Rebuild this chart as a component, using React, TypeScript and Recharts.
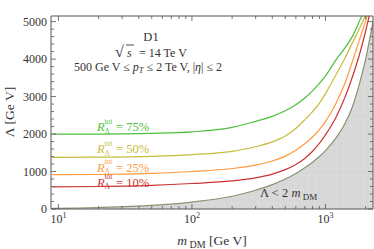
import React from "react";
import { ComposedChart, Line, Area, XAxis, YAxis } from "recharts";

// dark matter mass grid [GeV] and cutoff Λ [GeV]
const massGrid = [9, 20, 50, 100, 200, 300, 400, 500, 600, 700, 800, 900, 1000, 1200, 1400, 1600, 1800, 2000, 2270];
const ratio75 = [2000, 2000, 2020, 2060, 2180, 2340, 2470, 2620, 2780, 2960, 3150, 3350, 3550, 3980, 4300, 4620, 5020, 5400, 6100];
const ratio50 = [1380, 1385, 1405, 1450, 1540, 1660, 1790, 1950, 2150, 2380, 2600, 2820, 3080, 3580, 4030, 4450, 4820, 5180, 5800];
const ratio25 = [915, 920, 950, 1000, 1080, 1170, 1280, 1410, 1570, 1740, 1920, 2120, 2330, 2820, 3360, 3960, 4520, 5020, 5700];
const ratio10 = [590, 600, 630, 680, 750, 830, 930, 1050, 1190, 1350, 1540, 1750, 1980, 2450, 2980, 3550, 4130, 4750, 5600];
const excluded = [18, 40, 95, 185, 340, 500, 650, 800, 950, 1100, 1250, 1400, 1560, 1900, 2280, 2750, 3350, 4000, 5000];

const xMajor = [10, 100, 1000];
const xTicks = [10, 20, 30, 40, 50, 60, 70, 80, 90, 100, 200, 300, 400, 500, 600, 700, 800, 900, 1000, 2000];
const yMajor = [0, 1000, 2000, 3000, 4000, 5000];
const yTicks = [0, 200, 400, 600, 800, 1000, 1200, 1400, 1600, 1800, 2000, 2200, 2400, 2600, 2800, 3000,
  3200, 3400, 3600, 3800, 4000, 4200, 4400, 4600, 4800, 5000];

const curves = [
  { key: "r10", label: "10%", color: "#cc3434" },
  { key: "r25", label: "25%", color: "#ff9a3c" },
  { key: "r50", label: "50%", color: "#c6bd3a" },
  { key: "r75", label: "75%", color: "#4cbf3a" },
];

const rows = massGrid.map((m, i) => ({
  m,
  r75: ratio75[i],
  r50: ratio50[i],
  r25: ratio25[i],
  r10: ratio10[i],
  bound: excluded[i],
}));

const SERIF = "'Liberation Serif', 'Times New Roman', serif";
const INK = "#333";
const FRAME = "#555";

const XTick = (props: any) => {
  const { x, y, payload, side } = props;
  const v = payload.value;
  const major = xMajor.includes(v);
  const len = major ? 5 : 3;
  const dir = side === "bottom" ? -1 : 1;
  return (
    <g>
      <line x1={x} y1={y} x2={x} y2={y + dir * len} stroke={FRAME} strokeWidth={0.8} />
      {side === "bottom" && major && (
        <text x={x} y={y + 14} textAnchor="middle" fontFamily={SERIF} fontSize={12} fill={INK}>
          10<tspan dy={-5} fontSize={8}>{Math.round(Math.log10(v))}</tspan>
        </text>
      )}
    </g>
  );
};

const YTick = (props: any) => {
  const { x, y, payload, side } = props;
  const v = payload.value;
  const major = yMajor.includes(v);
  const len = major ? 5 : 3;
  const dir = side === "left" ? 1 : -1;
  return (
    <g>
      <line x1={x} y1={y} x2={x + dir * len} y2={y} stroke={FRAME} strokeWidth={0.8} />
      {side === "left" && major && (
        <text x={x - 4} y={y} dy="0.35em" textAnchor="end" fontFamily={SERIF} fontSize={12} fill={INK}>
          {v}
        </text>
      )}
    </g>
  );
};

// R_Λ^tot = xx%  (subscript and superscript stacked)
const CurveLabel = ({ x, y, pct, color }: any) => (
  <text x={x} y={y} fontFamily={SERIF} fontSize={12.5} fill={color}>
    <tspan fontStyle="italic">R</tspan>
    <tspan x={x + 7.5} dy={2.5} fontSize={7.5}>Λ</tspan>
    <tspan x={x + 7.5} dy={-10} fontSize={7.5}>tot</tspan>
    <tspan x={x + 19} dy={7.5}>{"= " + pct}</tspan>
  </text>
);

const labelY: Record<string, number> = { r75: 131, r50: 153, r25: 171.5, r10: 186.5 };

export default function App() {
  return (
    <div style={{ position: "absolute", left: 0, top: 0, width: 374, height: 249, background: "#fff" }}>
      <ComposedChart width={374} height={249} data={rows} margin={{ top: 15, right: 0, bottom: 39, left: 50 }}>
        <defs>
          <pattern id="mesh" width="7" height="7" patternUnits="userSpaceOnUse">
            <rect width="7" height="7" fill="#d7d7d7" />
            <path d="M0 0H7M0 0V7" stroke="#e3e3e3" strokeWidth="0.7" />
          </pattern>
        </defs>
        <XAxis xAxisId="b" dataKey="m" type="number" scale="log" domain={[8.8, 2270]} allowDataOverflow
          ticks={xTicks} interval={0} tickSize={0} tickMargin={0} tickLine={false} height={1}
          axisLine={{ stroke: FRAME }} tick={<XTick side="bottom" />} />
        <XAxis xAxisId="t" orientation="top" dataKey="m" type="number" scale="log" domain={[8.8, 2270]} allowDataOverflow
          ticks={xTicks} interval={0} tickSize={0} tickMargin={0} tickLine={false} height={1}
          axisLine={{ stroke: FRAME }} tick={<XTick side="top" />} />
        <YAxis yAxisId="l" type="number" domain={[0, 5150]} allowDataOverflow ticks={yTicks} interval={0}
          tickSize={0} tickMargin={0} tickLine={false} width={1} axisLine={{ stroke: FRAME }}
          tick={<YTick side="left" />} />
        <YAxis yAxisId="r" orientation="right" type="number" domain={[0, 5150]} allowDataOverflow ticks={yTicks}
          interval={0} tickSize={0} tickMargin={0} tickLine={false} width={1} axisLine={{ stroke: FRAME }}
          tick={<YTick side="right" />} />
        <Area xAxisId="b" yAxisId="l" dataKey="bound" type="monotone" fill="url(#mesh)" fillOpacity={1}
          stroke="#8a9270" strokeWidth={1.2} isAnimationActive={false} />
        {curves.map((c) => (
          <Line key={c.key} xAxisId="b" yAxisId="l" dataKey={c.key} type="monotone" stroke={c.color}
            strokeWidth={1.2} dot={false} activeDot={false} isAnimationActive={false} />
        ))}
        <Line xAxisId="t" yAxisId="r" dataKey="bound" stroke="none" dot={false} activeDot={false}
          isAnimationActive={false} legendType="none" />
      </ComposedChart>

      <svg width={374} height={249} style={{ position: "absolute", left: 0, top: 0, pointerEvents: "none" }}>
        <g fontFamily={SERIF} fill={INK}>
          <text x={151} y={41} textAnchor="middle" fontSize={12.5}>D1</text>
          <text x={115} y={57} fontSize={12}>
            <tspan fontSize={16}>√</tspan>
            <tspan x={127} fontStyle="italic">s</tspan>
            <tspan x={139}>= 14 Te V</tspan>
          </text>
          <line x1={126} y1={45} x2={134} y2={45} stroke={INK} strokeWidth={0.9} />
          <text x={74} y={70.5} fontSize={12}>
            500 Ge V ≤ <tspan fontStyle="italic">p</tspan>
            <tspan dy={2.5} fontSize={8.5} fontStyle="italic">T</tspan>
            <tspan dy={-2.5}> ≤ 2 Te V, |</tspan>
            <tspan fontStyle="italic">η</tspan>| ≤ 2
          </text>
          <text x={260} y={197} fontSize={12.5}>
            Λ &lt; 2 <tspan fontStyle="italic">m</tspan>
            <tspan dy={3} fontSize={9}> DM</tspan>
          </text>
          <text transform="translate(14,112) rotate(-90)" textAnchor="middle" fontSize={13.5}>
            Λ [Ge V]
          </text>
          <text x={212} y={245} textAnchor="middle" fontSize={13.5}>
            <tspan fontStyle="italic">m</tspan>
            <tspan dy={3} fontSize={10}> DM</tspan>
            <tspan dy={-3}> [Ge V]</tspan>
          </text>
        </g>
        {curves.map((c) => (
          <CurveLabel key={c.key} x={97} y={labelY[c.key]} pct={c.label} color={c.color} />
        ))}
      </svg>
    </div>
  );
}
